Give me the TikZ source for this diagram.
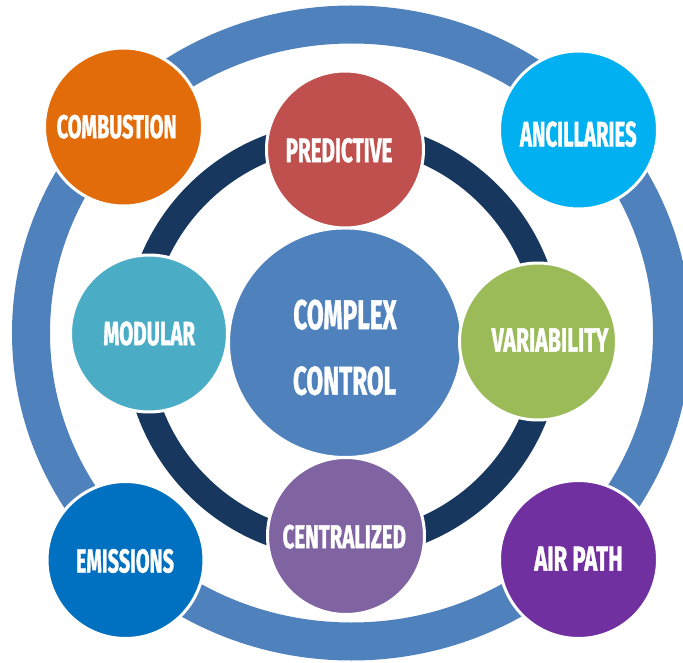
\documentclass[tikz,border=0pt]{standalone}
\usepackage{graphicx}
\usepackage{fontspec}
\usetikzlibrary{shapes.geometric}
\newfontfamily\lblfont{Fira Sans}[BoldFeatures={FakeBold=1.6}]
\definecolor{ringblue}{HTML}{4F81BD}
\definecolor{ringdark}{HTML}{17375E}
\definecolor{cOrange}{HTML}{E36C0A}
\definecolor{cRed}{HTML}{C0504D}
\definecolor{cCyan}{HTML}{00B0F0}
\definecolor{cTeal}{HTML}{4BACC6}
\definecolor{cGreen}{HTML}{9BBB59}
\definecolor{cPurple}{HTML}{8064A2}
\definecolor{cBlue}{HTML}{0070C0}
\definecolor{cViolet}{HTML}{7030A0}
\newcommand\fitlbl[3]{\resizebox{#1}{#2}{\lblfont\bfseries #3}}
\begin{document}
\begin{tikzpicture}[x=1pt,y=-1pt,
  bubble/.style={circle, draw=white, line width=3pt, minimum size=#1, inner sep=0pt},
  lbl/.style={inner sep=0pt, text=white}]
\useasboundingbox (0,0) rectangle (683,663);
\begin{scope}
  \clip (0,0) rectangle (683,663);
  \draw[ringblue, line width=38pt] (351.5,333) ellipse [x radius=320.5, y radius=308.5];
\end{scope}
\draw[ringdark, line width=26pt] (343,340) circle [radius=206];

\node[ellipse, draw=white, line width=3pt, fill=ringblue, minimum width=233.6pt, minimum height=229.6pt, inner sep=0pt] (core) at (345.3,342.7) {};

\node[bubble=157pt, fill=cRed]    (predictive)  at (345,149.5) {};
\node[bubble=157pt, fill=cTeal]   (modular)     at (149,333.5) {};
\node[bubble=157pt, fill=cGreen]  (variability) at (538,341.5) {};
\node[bubble=157pt, fill=cPurple] (centralized) at (346,536) {};

\node[bubble=158pt, fill=cOrange] (combustion)  at (123.5,127) {};
\node[bubble=158pt, fill=cCyan]   (ancillaries) at (578.5,130) {};
\node[bubble=157pt, fill=cBlue]   (emissions)   at (125.5,560) {};
\node[bubble=158pt, fill=cViolet] (airpath)     at (578.5,559.5) {};

\node[lbl] (tcomplex) at (345,314.7) {\fitlbl{103.4pt}{29.3pt}{COMPLEX}};
\node[lbl] (tcontrol) at (344.5,380.8) {\fitlbl{103pt}{28.3pt}{CONTROL}};

\node[lbl] (tcombustion)  at (116.7,126.7) {\fitlbl{120pt}{23.3pt}{COMBUSTION}};
\node[lbl] (tpredictive)  at (339,150.3)   {\fitlbl{106.7pt}{24pt}{PREDICTIVE}};
\node[lbl] (tancillaries) at (578.3,134.2) {\fitlbl{116.7pt}{25pt}{ANCILLARIES}};
\node[lbl] (tmodular)     at (149.2,333.5) {\fitlbl{91.7pt}{23.6pt}{MODULAR}};
\node[lbl] (tvariability) at (550,340)     {\fitlbl{116.7pt}{23.4pt}{VARIABILITY}};
\node[lbl] (tcentralized) at (344.3,536.7) {\fitlbl{123.3pt}{23.3pt}{CENTRALIZED}};
\node[lbl] (temissions)   at (125,561)     {\fitlbl{98pt}{23.4pt}{EMISSIONS}};
\node[lbl] (tairpath)     at (578.5,558.7) {\fitlbl{88.4pt}{24pt}{AIR PATH}};
\end{tikzpicture}
\end{document}
